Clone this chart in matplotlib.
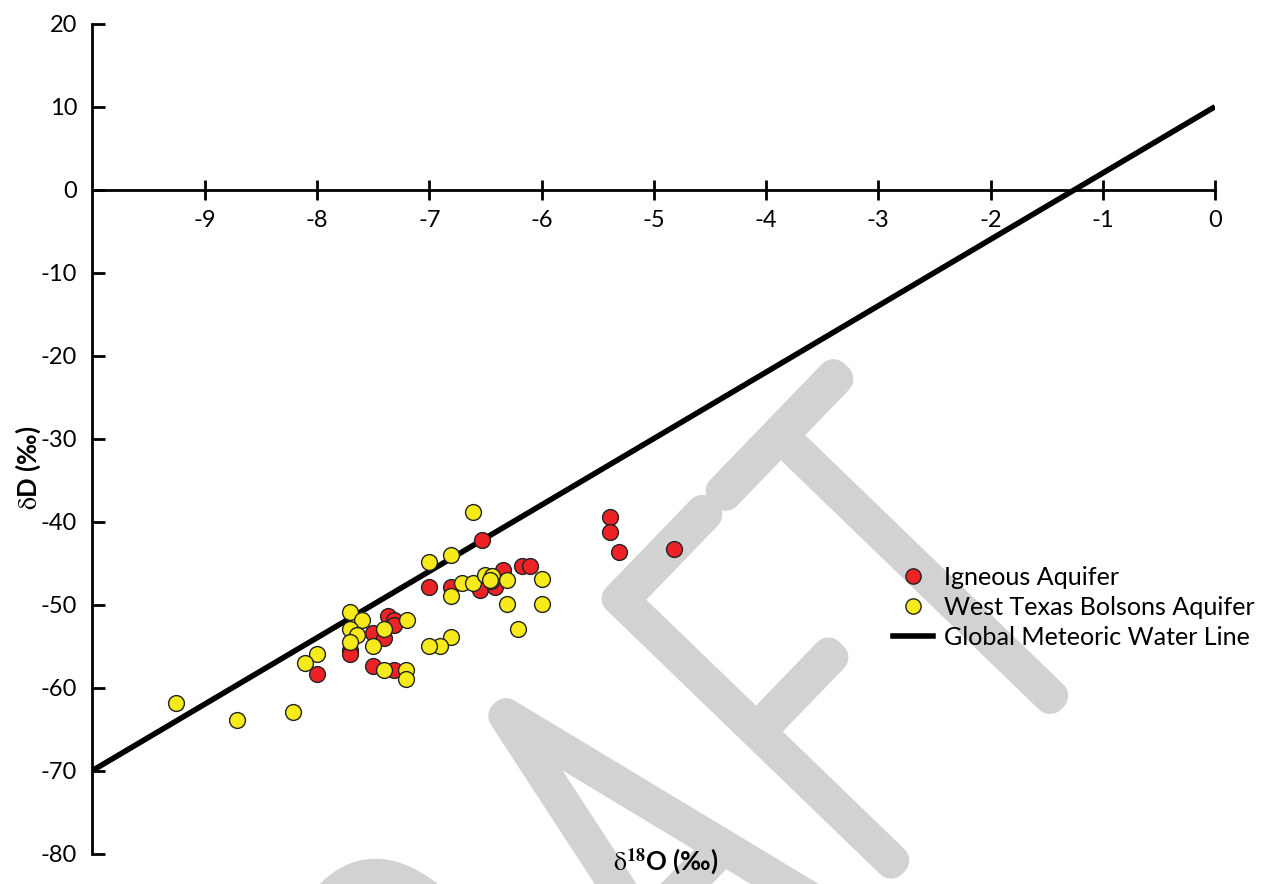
import matplotlib
matplotlib.use("Agg")
import matplotlib.pyplot as plt
from matplotlib.textpath import TextPath
from matplotlib.font_manager import FontProperties, findfont
from matplotlib.patches import PathPatch
from matplotlib.transforms import Affine2D
from matplotlib.lines import Line2D

plt.rcParams['font.family'] = ['Lato', 'DejaVu Sans']
plt.rcParams['mathtext.fontset'] = 'stix'

# ---------------- data ----------------
igneous_d18o = [-6.53, -6.17, -6.10, -7.00, -6.81, -6.55, -6.34, -6.41, -6.45,
                -7.37, -7.31, -7.31, -7.50, -7.40, -7.71, -7.71, -8.00, -7.50,
                -7.31, -5.39, -5.39, -5.31, -4.82]
igneous_dD = [-42.2, -45.4, -45.4, -47.9, -47.9, -48.3, -45.8, -47.9, -47.2,
              -51.4, -51.9, -52.5, -53.4, -54.0, -55.5, -56.0, -58.4, -57.4,
              -57.9, -39.4, -41.3, -43.7, -43.3]

bolson_d18o = [-6.61, -6.81, -7.00, -6.00, -6.71, -6.61, -6.50, -6.44, -6.46,
               -6.31, -6.81, -6.31, -6.00, -6.21, -6.81, -6.90, -7.00, -7.71,
               -7.60, -7.71, -7.64, -7.71, -7.20, -7.40, -7.50, -8.00, -8.11,
               -7.40, -7.21, -7.21, -9.26, -8.71, -8.21]
bolson_dD = [-38.9, -44.0, -44.9, -46.9, -47.4, -47.4, -46.4, -46.5, -47.0,
             -47.0, -49.0, -49.9, -49.9, -53.0, -53.9, -55.0, -55.0, -50.9,
             -51.9, -52.9, -53.7, -54.5, -51.9, -53.0, -55.0, -55.9, -57.0,
             -57.9, -57.9, -59.0, -61.9, -63.9, -62.9]

gmwl_x = [-10, 0]
gmwl_y = [-70, 10]

x_ticks = [-9, -8, -7, -6, -5, -4, -3, -2, -1, 0]
y_ticks = [-80, -70, -60, -50, -40, -30, -20, -10, 0, 10, 20]

series_labels = ['Igneous Aquifer', 'West Texas Bolsons Aquifer', 'Global Meteoric Water Line']

# ---------------- figure ----------------
W, H = 1269, 884
fig = plt.figure(figsize=(W / 100, H / 100), dpi=100)
fig.patch.set_facecolor('white')

ax_left, ax_right, ax_top, ax_bottom = 92.5, 1215, 23.7, 853.5
ax = fig.add_axes([ax_left / W, 1 - ax_bottom / H, (ax_right - ax_left) / W, (ax_bottom - ax_top) / H])
ax.set_facecolor('none')

RED = '#ec2227'
YEL = '#f6ea1a'

ax.plot(gmwl_x, gmwl_y, color='black', lw=4.0, solid_capstyle='butt', zorder=2)
ax.scatter(igneous_d18o, igneous_dD, s=130, c=RED, edgecolors='#222222', linewidths=1.0, zorder=3)
ax.scatter(bolson_d18o, bolson_dD, s=130, c=YEL, edgecolors='#222222', linewidths=1.0, zorder=4)

ax.set_xlim(-10, 0)
ax.set_ylim(-80, 20)
ax.spines['top'].set_visible(False)
ax.spines['right'].set_visible(False)
ax.spines['bottom'].set_position(('data', 0))
for sp in ('left', 'bottom'):
    ax.spines[sp].set_linewidth(2.0)
    ax.spines[sp].set_color('black')

ax.set_xticks(x_ticks)
ax.set_xticklabels([str(v) for v in x_ticks])
ax.set_yticks(y_ticks)
ax.set_yticklabels([str(v) for v in y_ticks])
ax.tick_params(axis='x', direction='inout', length=14, width=2.0, pad=8, labelsize=17, colors='black')
ax.tick_params(axis='y', direction='in', length=9.5, width=2.0, pad=11, labelsize=17, colors='black')

# axis labels
fig.text(28 / W, 1 - 468 / H, r'$\mathrm{\delta}$D (‰)', rotation=90, ha='center', va='center',
         fontsize=18.5, fontweight='bold')
fig.text(666 / W, 1 - 862 / H, r'$\mathrm{\delta}^{\mathbf{18}}$O (‰)', ha='center', va='center',
         fontsize=18.5, fontweight='bold')

# legend
handles = [
    Line2D([], [], ls='none', marker='o', markersize=11, markerfacecolor=RED, markeredgecolor='#222222', markeredgewidth=1.0),
    Line2D([], [], ls='none', marker='o', markersize=11, markerfacecolor=YEL, markeredgecolor='#222222', markeredgewidth=1.0),
    Line2D([], [], color='black', lw=4.0),
]
fig.legend(handles, series_labels, loc='upper left', bbox_to_anchor=(893 / W, 1 - 566 / H),
           frameon=False, fontsize=18.1, handlelength=1.58, handletextpad=0.43,
           labelspacing=0.28, borderpad=0, borderaxespad=0)

# ---------------- DRAFT watermark ----------------
GRAY = '#d2d2d2'
fp = FontProperties(family='Lato', weight='normal')
for fam, wt in [('Lato', 'light'), ('Lato', 300), ('Roboto', 'light'), ('Open Sans', 'light'),
                ('Inter', 'light'), ('Noto Sans', 'light')]:
    cand = FontProperties(family=fam, weight=wt)
    try:
        path_name = findfont(cand, fallback_to_default=False).lower()
    except Exception:
        continue
    if 'light' in path_name or 'thin' in path_name:
        fp = cand
        break

angle = 46
k = 0.55
cap_px = 412
target_stem = 35.0
origin = (766, H - 422)
tpath = TextPath((0, 0), 'T', size=100, prop=fp)
cap_units = tpath.get_extents().y1
stem_units = TextPath((0, 0), 'I', size=100, prop=fp).get_extents().width
stroke_px = 6.0
for _ in range(4):
    s = (cap_px - stroke_px) / cap_units
    stroke_px = min(32.0, max(5.0, target_stem - stem_units * k * s))
s = (cap_px - stroke_px) / cap_units

def place(ch, anchor, u):
    p = TextPath((0, 0), ch, size=100, prop=fp)
    e = p.get_extents()
    if anchor == 'center':
        rx, tu = (e.x0 + e.x1) / 2, u
    elif anchor == 'left':
        rx, tu = e.x0, u + stroke_px / 2
    else:
        rx, tu = e.x1, u - stroke_px / 2
    tr = (Affine2D().translate(-rx, -cap_units).scale(k * s, s)
          .translate(tu, -stroke_px / 2).rotate_deg(angle).translate(*origin)
          .scale(1 / W, 1 / H)) + fig.transFigure
    patch = PathPatch(p, transform=tr, facecolor=GRAY, edgecolor=GRAY,
                      lw=stroke_px * 0.72, joinstyle='round', capstyle='round', zorder=-1)
    fig.add_artist(patch)
    return (e.x1 - e.x0) * k * s

place('T', 'center', 0)
place('F', 'left', -246)
place('A', 'center', -392)
rw = place('R', 'right', -540)
place('D', 'right', -540 - rw - 45)

fig.savefig('out.png', dpi=100, facecolor='white')
